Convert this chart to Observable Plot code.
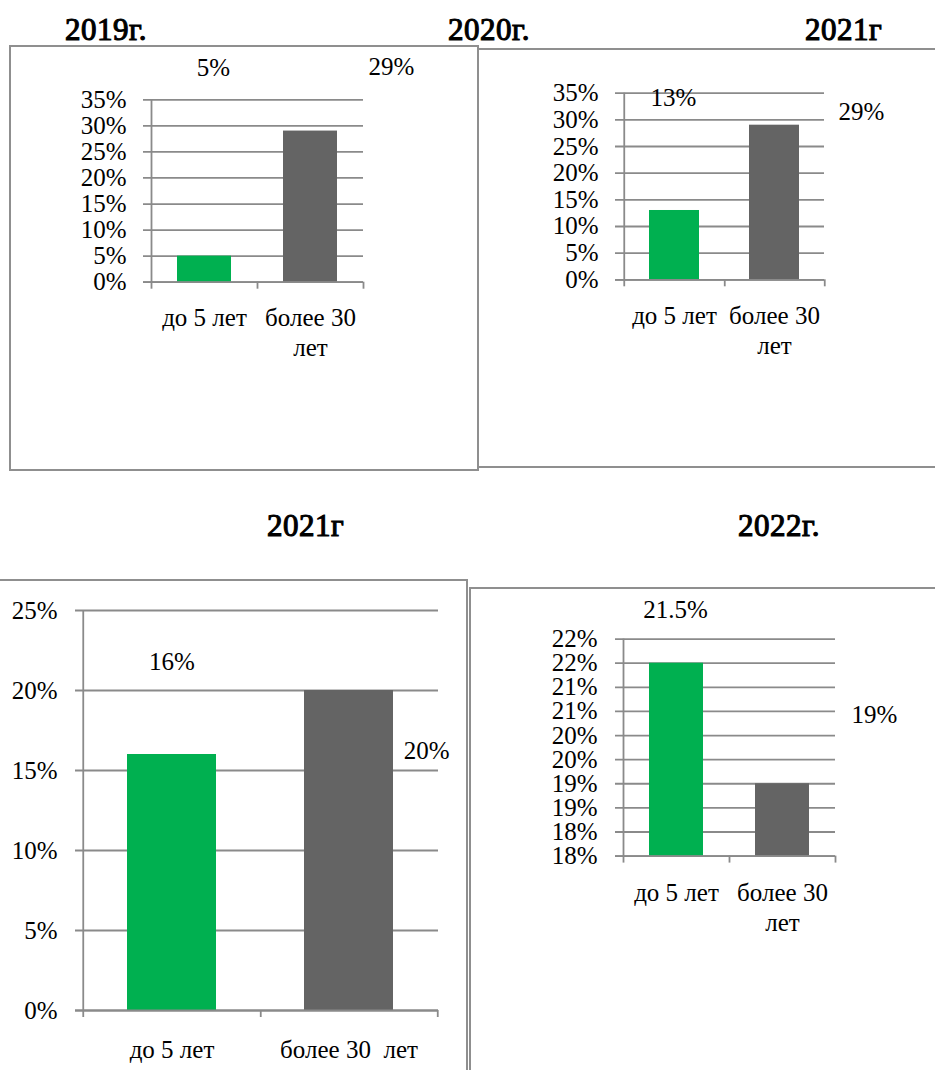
<!DOCTYPE html>
<html><head><meta charset="utf-8">
<script src="https://cdn.jsdelivr.net/npm/d3@7"></script>
<script src="https://cdn.jsdelivr.net/npm/@observablehq/plot@0.6"></script>
<style>
html,body{margin:0;padding:0;background:#fff;}
#page{position:relative;width:935px;height:1070px;overflow:hidden;font-family:"Liberation Serif",serif;}
.box{position:absolute;box-sizing:border-box;border:2px solid #8f8f8f;}
.title{position:absolute;font-weight:normal;-webkit-text-stroke:1.1px #000;font-size:31px;line-height:1;white-space:nowrap;color:#000;letter-spacing:0.5px;}
#page svg text, #page svg tspan{font-family:"Liberation Serif",serif !important;}
</style></head><body><div id="page"></div>
<script>
// ---- data ----
const titles = ["2019г.", "2020г.", "2021г", "2021г", "2022г."];
const categories = ["до 5 лет", "более 30 лет"];
const catLabelsWrapped = ["до 5 лет", "более 30\nлет"];
const catLabelsWide = ["до 5 лет", "более 30\u00a0 лет"];

const values2019 = [5, 29];
const dataLabels2019 = ["5%", "29%"];
const values2020 = [13, 29];
const dataLabels2020 = ["13%", "29%"];
const values2021 = [16, 20];
const dataLabels2021 = ["16%", "20%"];
const values2022 = [22, 19.5];
const dataLabels2022 = ["21.5%", "19%"];

const ticks35 = [0, 5, 10, 15, 20, 25, 30, 35];
const tickLabels35 = ["0%", "5%", "10%", "15%", "20%", "25%", "30%", "35%"];
const ticks25 = [0, 5, 10, 15, 20, 25];
const tickLabels25 = ["0%", "5%", "10%", "15%", "20%", "25%"];
const ticks2022 = [18, 18.5, 19, 19.5, 20, 20.5, 21, 21.5, 22, 22.5];
const tickLabels2022 = ["18%", "18%", "19%", "19%", "20%", "20%", "21%", "21%", "22%", "22%"];

// ---- styles ----
const barColors = ["#00B050", "#646464"];
const GRID = "#8a8a8a";
const FONT = "Liberation Serif";

const page = document.getElementById("page");

function drawChart(o) {
  const rows = categories.map((c, i) => ({cat: c, label: o.catLabels[i], value: o.values[i], text: o.dataLabels[i]}));
  const tickRows = o.ticks.map((t, i) => ({t, label: o.tickLabels[i]}));
  const step = (o.width - o.ml - o.mr) / categories.length;
  const yMin = o.ticks[0];
  const txt = {fontFamily: FONT};
  const svg = Plot.plot({
    width: o.width,
    height: o.height,
    marginLeft: o.ml, marginRight: o.mr, marginTop: o.mt, marginBottom: o.mb,
    style: {fontFamily: FONT, fontSize: "25px", background: "transparent", overflow: "visible"},
    x: {type: "band", domain: categories, paddingInner: o.pad, paddingOuter: o.pad / 2, align: 0.5, axis: null},
    y: {domain: [yMin, o.ticks[o.ticks.length - 1]], axis: null},
    color: {domain: categories, range: barColors},
    marks: [
      Plot.ruleY(o.ticks, {stroke: GRID, strokeWidth: 1.8, insetLeft: -8}),
      Plot.barY(rows, {x: "cat", y1: yMin, y2: "value", fill: "cat"}),
      Plot.ruleY([yMin], {stroke: GRID, strokeWidth: 1.8, insetLeft: -8}),
      Plot.ruleX([categories[0]], {dx: -step / 2, stroke: GRID, strokeWidth: 1.8, insetBottom: -7}),
      Plot.ruleX(categories, {dx: step / 2, y1: yMin, y2: yMin, stroke: GRID, strokeWidth: 1.8, insetBottom: -7}),
      Plot.text(tickRows, {...txt, y: "t", text: "label", frameAnchor: "left", textAnchor: "end", dx: -o.tickPad}),
      Plot.text(rows, {...txt, x: "cat", text: "label", frameAnchor: "bottom", lineAnchor: "top", dy: o.catDy, lineHeight: 1.2}),
      ...rows.map((r, i) => Plot.text([r], {...txt, x: "cat", y: "value", text: "text", dx: o.labelOffsets[i][0], dy: o.labelOffsets[i][1]}))
    ]
  });
  svg.style.position = "absolute";
  svg.style.left = o.left + "px";
  svg.style.top = o.top + "px";
  svg.style.maxWidth = "none";
  page.appendChild(svg);
}

// boxes
[
  {left: 9, top: 45, width: 470, height: 426},
  {left: 477, top: 48, width: 500, height: 420},
  {left: -5, top: 579, width: 473, height: 600},
  {left: 469, top: 587, width: 500, height: 600}
].forEach(b => {
  const d = document.createElement("div");
  d.className = "box";
  Object.assign(d.style, {left: b.left + "px", top: b.top + "px", width: b.width + "px", height: b.height + "px"});
  page.appendChild(d);
});

drawChart({values: values2019, dataLabels: dataLabels2019, catLabels: catLabelsWrapped,
  ticks: ticks35, tickLabels: tickLabels35,
  left: 10, top: 46, width: 468, height: 424, ml: 141, mr: 115, mt: 53.3, mb: 188.3,
  pad: 0.49, tickPad: 25, catDy: 22.2, labelOffsets: [[9, -188.6], [81, -63.6]]});

drawChart({values: values2020, dataLabels: dataLabels2020, catLabels: catLabelsWrapped,
  ticks: ticks35, tickLabels: tickLabels35,
  left: 478, top: 49, width: 457, height: 418, ml: 145, mr: 111, mt: 43.7, mb: 187.7,
  pad: 0.5, tickPad: 25, catDy: 23, labelOffsets: [[-1, -112], [87, -13.4]]});

drawChart({values: values2021, dataLabels: dataLabels2021, catLabels: catLabelsWide,
  ticks: ticks25, tickLabels: tickLabels25,
  left: 0, top: 580, width: 467, height: 490, ml: 83, mr: 29, mt: 30, mb: 60,
  pad: 0.495, tickPad: 26, catDy: 26, labelOffsets: [[0, -92.2], [77.6, 60.2]]});

drawChart({values: values2022, dataLabels: dataLabels2022, catLabels: catLabelsWrapped,
  ticks: ticks2022, tickLabels: tickLabels2022,
  left: 470, top: 588, width: 465, height: 482, ml: 153, mr: 100, mt: 50.6, mb: 214.4,
  pad: 0.495, tickPad: 26, catDy: 24, labelOffsets: [[-1, -53.5], [91.8, -68.8]]});

// titles
const titlePos = [[65, 14], [448, 14], [805, 14], [267, 510], [738, 510]];
titles.forEach((t, i) => {
  const d = document.createElement("div");
  d.className = "title";
  d.textContent = t;
  d.style.left = titlePos[i][0] + "px";
  d.style.top = titlePos[i][1] + "px";
  page.appendChild(d);
});
</script>
</body></html>
